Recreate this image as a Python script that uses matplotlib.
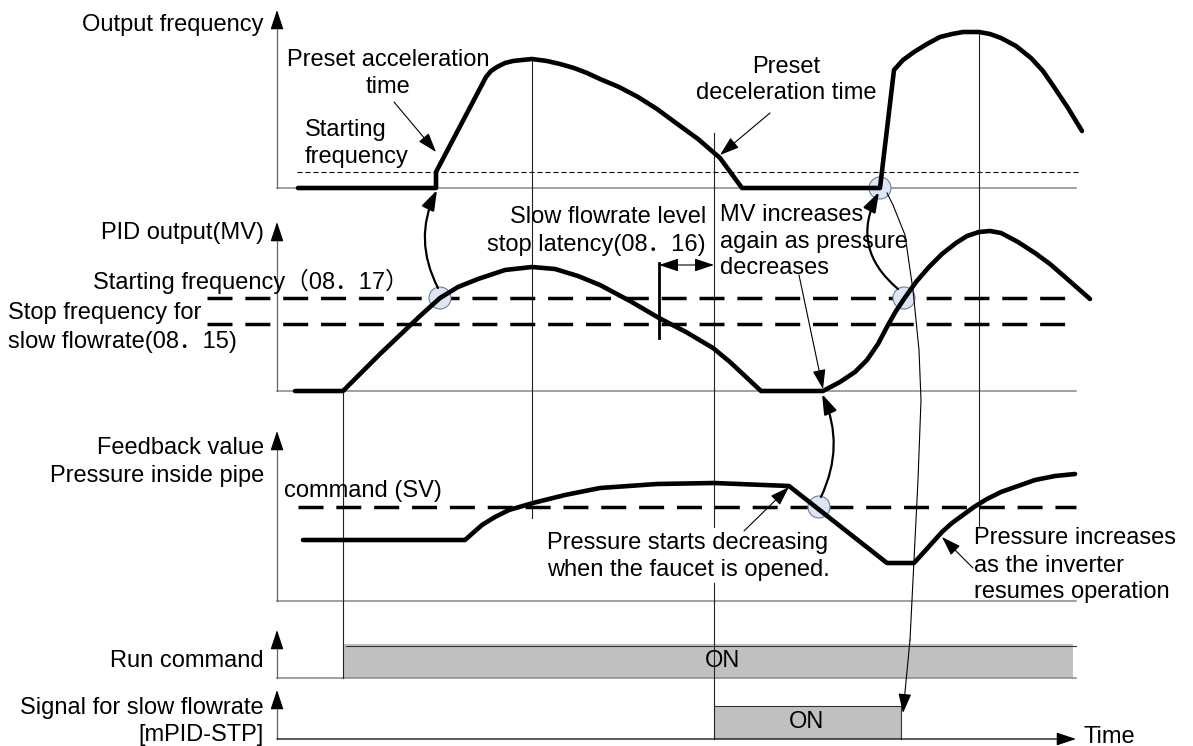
import matplotlib
matplotlib.use('agg')
import matplotlib.pyplot as plt
from matplotlib.patches import Rectangle, Circle

plt.rcParams['font.family'] = ['Liberation Sans', 'Noto Sans CJK SC', 'DejaVu Sans']
FS = 17

# everything is in pixel units of the original 1193 x 746 diagram (y grows downwards)
AX_X = 277
X_END = 1076

# panel baselines and axis arrow tops
panel_base = [188, 391, 601, 678, 739]
panel_top = [10, 222, 431, 630, 690]

# output frequency
freq_x = [298, 436, 436, 486, 491, 497, 505, 513, 522, 532, 547, 560, 574, 587, 600, 619,
          638, 657, 676, 698, 720, 742, 880, 894, 903, 914, 927, 940, 952, 963, 979, 990,
          1001, 1016, 1031, 1043, 1054, 1068, 1082]
freq_y = [188, 188, 172, 77, 71, 67, 63, 61, 60, 59, 61, 64, 68, 73, 79, 87,
          97, 109, 123, 139, 158, 188, 188, 70, 60, 52, 44, 37, 34, 32, 32, 34,
          38, 46, 58, 71, 87, 108, 131]
start_freq_y = 172

# PID output (MV)
mv_x = [295, 343, 360, 380, 400, 420, 440, 458, 478, 505, 532, 555, 578, 600, 630, 659,
        686, 713, 730, 745, 761, 823, 840, 855, 867, 878, 888, 896, 904, 916, 929, 942,
        956, 967, 979, 990, 1001, 1018, 1035, 1050, 1065, 1090]
mv_y = [391, 391, 374, 354, 335, 316, 298, 287, 279, 270, 267, 269, 276, 285, 301, 318,
        332, 348, 362, 376, 391, 391, 382, 372, 360, 344, 325, 311, 299, 282, 267, 254,
        243, 236, 232, 231, 233, 242, 253, 264, 277, 299]
mv_start_y = 298
mv_stop_y = 324

# feedback value
fb_x = [303, 465, 474, 482, 495, 509, 533, 565, 600, 657, 714, 789, 887, 914, 924, 933,
        942, 952, 963, 974, 987, 1001, 1018, 1035, 1055, 1075]
fb_y = [540, 540, 532, 525, 517, 510, 503, 495, 488, 484, 483, 486, 563, 563, 552, 542,
        532, 523, 515, 507, 499, 492, 486, 480, 476, 474]
sv_y = 507

# digital signals: (on, off)
run_on = (343, 1073)
slow_on = (714, 901)

# event times (thin vertical guides): x, y_from, y_to
guides = [(343, 391, 678), (532, 59, 518), (714, 133, 527), (714, 583, 739), (979, 32, 527)]

# marked crossings
marks = [(440, 298), (880, 188), (904, 298), (819, 507)]

# thin link from the restart point down to the end of the slow flowrate signal
link_x = [887, 893, 905, 913, 919, 921, 918, 914, 910, 903]
link_y = [193, 205, 235, 290, 350, 400, 480, 560, 640, 713]

fig = plt.figure(figsize=(11.93, 7.46), dpi=100)
ax = fig.add_axes([0, 0, 1, 1])
ax.set_xlim(0, 1193)
ax.set_ylim(746, 0)
ax.axis('off')

BOLD = 3.3
HEAD = '-|>,head_length=0.6,head_width=0.2'


def arrow(p0, p1, lw=0.8, rad=0.0, style=HEAD):
    ax.annotate('', xy=p1, xytext=p0,
                arrowprops=dict(arrowstyle=style, mutation_scale=20, lw=lw, color='k',
                                shrinkA=0, shrinkB=0,
                                connectionstyle='arc3,rad=%s' % rad), zorder=5)


def txt(x, y, s, ha='left'):
    ax.text(x, y, s, fontsize=FS, ha=ha, va='center', color='k', zorder=6)


# axes
for base, top in zip(panel_base[:4], panel_top[:4]):
    ax.plot([AX_X, X_END], [base, base], color='#888888', lw=1.1, zorder=1)
    ax.plot([AX_X, AX_X], [base, top + 15], color='#666666', lw=0.9, zorder=1)
    arrow((AX_X, top + 16), (AX_X, top), lw=0.9)
ax.plot([AX_X, AX_X], [panel_base[4], panel_top[4] + 15], color='#666666', lw=0.9)
arrow((AX_X, panel_top[4] + 16), (AX_X, panel_top[4]), lw=0.9)
arrow((AX_X, panel_base[4]), (X_END, panel_base[4]), lw=0.9)

# guides
for gx, y0, y1 in guides:
    ax.plot([gx, gx], [y0, y1], color='#222222', lw=0.8, zorder=1)

# reference levels
l, = ax.plot([297, 1078], [start_freq_y, start_freq_y], color='k', lw=0.8, zorder=1)
l.set_dashes([4.5, 2.7])
for yy in (mv_start_y, mv_stop_y):
    l, = ax.plot([207, X_END], [yy, yy], color='k', lw=2.5, zorder=1)
    l.set_dashes([7.2, 3.7])
l, = ax.plot([298, X_END], [sv_y, sv_y], color='k', lw=2.5, zorder=1)
l.set_dashes([7.2, 3.7])

# crossing marks
for cx, cy in marks:
    ax.add_patch(Circle((cx, cy), 11, facecolor='#dde6f4', edgecolor='#6f7f99', lw=0.8, zorder=1.5))

# main curves
for xs, ys in ((freq_x, freq_y), (mv_x, mv_y), (fb_x, fb_y)):
    ax.plot(xs, ys, color='k', lw=BOLD, solid_joinstyle='round', solid_capstyle='round', zorder=2)

# digital signals
ax.add_patch(Rectangle((run_on[0], 644), run_on[1] - run_on[0], panel_base[3] - 644,
                       facecolor='#c0c0c0', edgecolor='none', zorder=0.5))
ax.plot([run_on[0] + 3, X_END], [645.5, 645.5], color='#333333', lw=0.8)
ax.add_patch(Rectangle((slow_on[0], 706), slow_on[1] - slow_on[0], panel_base[4] - 706,
                       facecolor='#c0c0c0', edgecolor='none', zorder=0.5))
ax.plot([slow_on[0], slow_on[1]], [706, 706], color='#333333', lw=0.8)
ax.plot([slow_on[1], slow_on[1]], [706, panel_base[4]], color='#333333', lw=0.8)
txt(722, 661, 'ON', ha='center')
txt(807, 722, 'ON', ha='center')

# stop latency marker
ax.plot([659, 659], [263, 338], color='k', lw=2.0)
arrow((659, 265), (714, 265), lw=0.8, style='<|-|>,head_length=0.6,head_width=0.2')

# pointer arrows
arrow((394, 102), (436, 152))
arrow((770, 113), (720, 155))
arrow((799, 275), (823, 389))
arrow((744, 531), (789, 487))
arrow((973, 568), (942, 537))

# curved cause/effect arrows
arrow((438, 288), (437, 190), lw=1.6, rad=-0.25)
arrow((898, 289), (879, 192), lw=1.6, rad=-0.4)
arrow((821, 497), (822, 394), lw=1.6, rad=0.23)
ax.plot(link_x[:-1], link_y[:-1], color='k', lw=0.8)
arrow((link_x[-2], link_y[-2]), (link_x[-1], link_y[-1]))

# labels
txt(264, 25, 'Output frequency', ha='right')
txt(264, 233, 'PID output(MV)', ha='right')
txt(264, 448, 'Feedback value', ha='right')
txt(264, 476, 'Pressure inside pipe', ha='right')
txt(264, 661, 'Run command', ha='right')
txt(264, 708, 'Signal for slow flowrate', ha='right')
txt(264, 735, '[mPID-STP]', ha='right')
txt(1083, 737, 'Time')

txt(388, 60, 'Preset acceleration', ha='center')
txt(388, 87, 'time', ha='center')
txt(305, 130, 'Starting')
txt(305, 157, 'frequency')
txt(786, 67, 'Preset', ha='center')
txt(786, 93, 'deceleration time', ha='center')

txt(706, 217, 'Slow flowrate level', ha='right')
txt(706, 245, 'stop latency(08．16)', ha='right')
txt(720, 215, 'MV increases')
txt(720, 242, 'again as pressure')
txt(720, 268, 'decreases')
txt(93, 281, 'Starting frequency（08．17）')
txt(8, 313, 'Stop frequency for')
txt(8, 342, 'slow flowrate(08．15)')

txt(284, 491, 'command (SV)')
txt(547, 543, 'Pressure starts decreasing')
txt(547, 570, 'when the faucet is opened.')
txt(974, 538, 'Pressure increases')
txt(974, 566, 'as the inverter')
txt(974, 592, 'resumes operation')

fig.savefig('out.png', dpi=100, facecolor='white')
